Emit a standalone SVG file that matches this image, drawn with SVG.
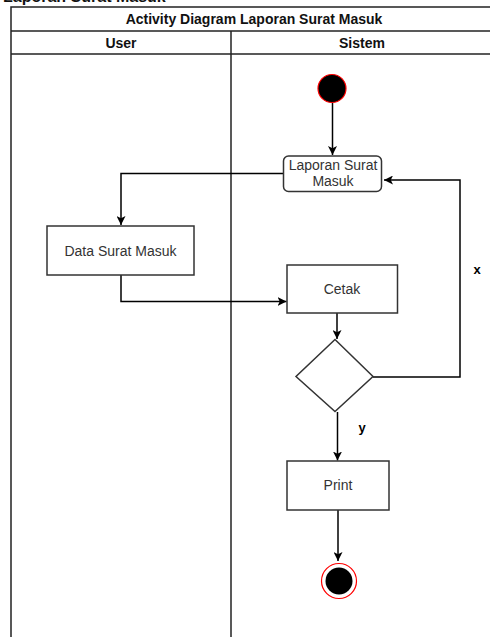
<svg xmlns="http://www.w3.org/2000/svg" width="490" height="637" viewBox="0 0 490 637">
  <defs>
    <marker id="arrow" viewBox="0 0 10 10" refX="10" refY="5" markerWidth="9" markerHeight="9" markerUnits="userSpaceOnUse" orient="auto">
      <path d="M0,0 L10,5 L0,10 L2.5,5 z" fill="#000"/>
    </marker>
  </defs>
  <style>
    .lane { fill: none; stroke: #222; stroke-width: 1.5; }
    .hdr { font-family: "Liberation Sans", Arial, sans-serif; font-weight: bold; font-size: 14px; fill: #111; text-anchor: middle; }
    .box { fill: #fff; stroke: #333; stroke-width: 1.5; }
    .lbl { font-family: "Liberation Sans", Arial, sans-serif; font-size: 14px; fill: #333; text-anchor: middle; }
    .edge { fill: none; stroke: #000; stroke-width: 1.5; marker-end: url(#arrow); }
    .guard { font-family: "Liberation Sans", Arial, sans-serif; font-weight: bold; font-size: 13px; fill: #000; text-anchor: middle; }
  </style>
  <rect width="490" height="637" fill="#fff"/>

  <!-- caption above the pool, clipped by the page edge -->
  <text x="3" y="1.5" font-family="Liberation Sans, Arial, sans-serif" font-weight="bold" font-size="16" fill="#111">Laporan Surat Masuk</text>

  <!-- pool and swimlanes -->
  <g id="pool">
    <rect class="lane" x="11" y="7" width="485" height="640"/>
    <line class="lane" x1="11" y1="31" x2="496" y2="31"/>
    <line class="lane" x1="11" y1="54" x2="496" y2="54"/>
    <line class="lane" x1="231" y1="31" x2="231" y2="647"/>
    <text class="hdr" x="254" y="24" font-size="14.5">Activity Diagram Laporan Surat Masuk</text>
    <text class="hdr" x="121" y="48">User</text>
    <text class="hdr" x="362" y="48">Sistem</text>
  </g>

  <!-- connectors -->
  <g id="connectors">
    <path class="edge" d="M332.5 103 V155"/>
    <path class="edge" d="M283 173.5 H121 V225"/>
    <path class="edge" d="M121 275 V301.5 H286.5"/>
    <path class="edge" d="M337 313 V339"/>
    <path class="edge" d="M373 377 H460 V180 H384"/>
    <path class="edge" d="M337.5 412 V460.5"/>
    <path class="edge" d="M338 510 V561"/>
    <text class="guard" x="477" y="274">x</text>
    <text class="guard" x="362" y="432">y</text>
  </g>

  <!-- nodes -->
  <g id="start">
    <circle cx="332" cy="88.5" r="14" fill="#000" stroke="#ff0000" stroke-width="1.2"/>
  </g>
  <g id="laporan-surat-masuk">
    <rect class="box" x="283.5" y="156" width="98" height="35.5" rx="5"/>
    <text class="lbl" x="333" y="170">Laporan Surat</text>
    <text class="lbl" x="333" y="186">Masuk</text>
  </g>
  <g id="data-surat-masuk">
    <rect class="box" x="47" y="226" width="147" height="49"/>
    <text class="lbl" x="120.5" y="255.5">Data Surat Masuk</text>
  </g>
  <g id="cetak">
    <rect class="box" x="287" y="265" width="110.5" height="48"/>
    <text class="lbl" x="342" y="294">Cetak</text>
  </g>
  <g id="decision">
    <polygon class="box" points="335,339.5 373,376.5 335,411.5 296,376.5"/>
  </g>
  <g id="print">
    <rect class="box" x="287" y="461" width="102" height="49"/>
    <text class="lbl" x="338" y="490">Print</text>
  </g>
  <g id="end">
    <circle cx="339" cy="581" r="17.5" fill="#fff" stroke="#ff0000" stroke-width="1.2"/>
    <circle cx="339" cy="581" r="13.5" fill="#000"/>
  </g>
</svg>
